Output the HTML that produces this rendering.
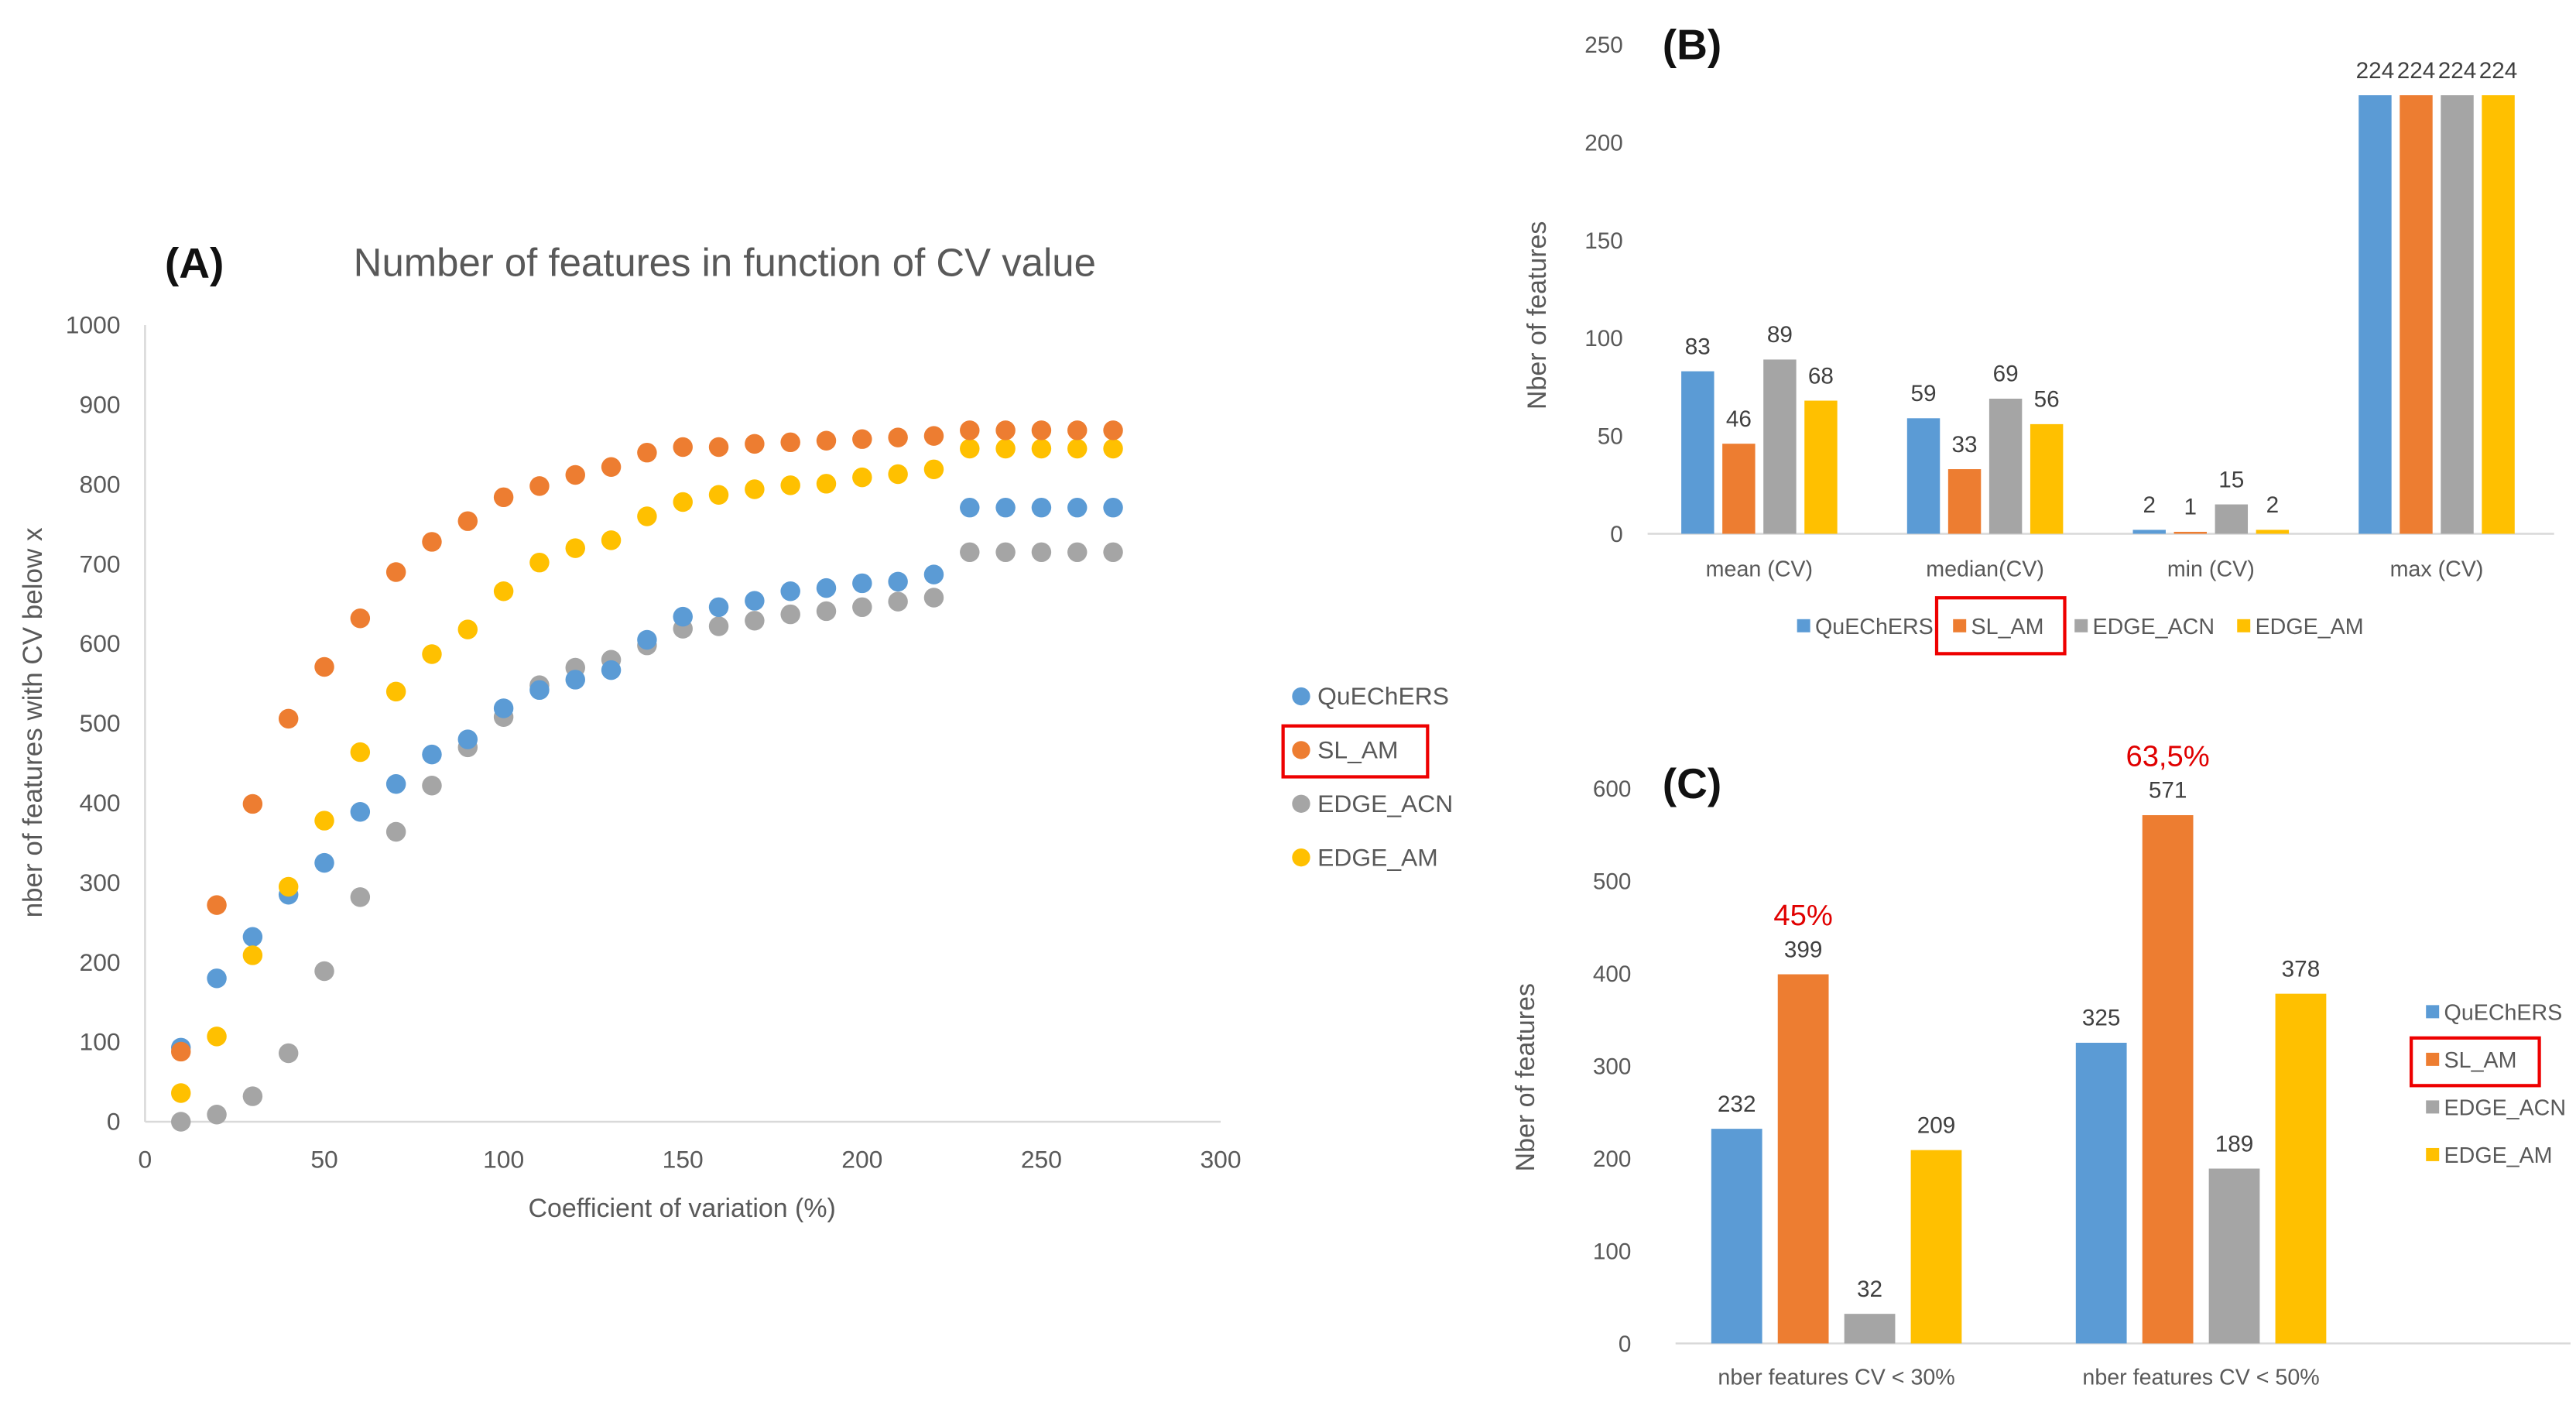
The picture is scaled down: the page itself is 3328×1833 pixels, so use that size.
<!DOCTYPE html>
<html><head><meta charset="utf-8"><style>
html,body{margin:0;padding:0;background:#fff;}
svg{display:block;font-family:"Liberation Sans Narrow","Liberation Sans",sans-serif;}
</style></head><body>
<svg id="fig" width="3328" height="1833" viewBox="0 0 1568 864" xmlns="http://www.w3.org/2000/svg">
<rect width="1568" height="864" fill="#fff"/>
<g id="A">
<text x="100" y="169" font-size="26" font-weight="bold" fill="#111" font-family="Liberation Sans,sans-serif">(A)</text>
<text x="441" y="168" font-size="24" fill="#595959" text-anchor="middle" font-family="Liberation Sans,sans-serif">Number of features in function of CV value</text>
<line x1="88" y1="198" x2="88" y2="683" stroke="#d9d9d9" stroke-width="1.2"/>
<line x1="88" y1="683" x2="743" y2="683" stroke="#d9d9d9" stroke-width="1.2"/>
<g id="Ayt"></g><g id="Axt"></g>
<text x="415" y="741" font-size="16" fill="#595959" text-anchor="middle">Coefficient of variation (%)</text>
<text transform="translate(25,440) rotate(-90)" font-size="16.5" fill="#595959" text-anchor="middle" font-family="Liberation Sans,sans-serif">nber of features with CV below x</text>
<g id="Apts"></g>
<g id="Aleg"></g>
<rect x="781" y="442" width="88" height="31" fill="none" stroke="#e00" stroke-width="2"/>
</g>
<g id="B">
<text x="1012" y="36" font-size="26" font-weight="bold" fill="#111" font-family="Liberation Sans,sans-serif">(B)</text>
<line x1="1003" y1="325" x2="1555" y2="325" stroke="#d9d9d9" stroke-width="1.2"/>
<text transform="translate(941,192) rotate(-90)" font-size="16" fill="#595959" text-anchor="middle" font-family="Liberation Sans,sans-serif">Nber of features</text>
<g id="Bg"></g>
<rect x="1179" y="364" width="78" height="34" fill="none" stroke="#e00" stroke-width="2"/>
</g>
<g id="C">
<text x="1012" y="486" font-size="26" font-weight="bold" fill="#111" font-family="Liberation Sans,sans-serif">(C)</text>
<line x1="1020" y1="818" x2="1565" y2="818" stroke="#d9d9d9" stroke-width="1.2"/>
<text transform="translate(934,656) rotate(-90)" font-size="16" fill="#595959" text-anchor="middle" font-family="Liberation Sans,sans-serif">Nber of features</text>
<g id="Cg"></g>
<rect x="1468" y="632" width="78" height="29" fill="none" stroke="#e00" stroke-width="2"/>
</g>
</svg>
<script>
const seriesNames = ["QuEChERS","SL_AM","EDGE_ACN","EDGE_AM"];
const seriesColors = ["#5b9bd5","#ed7d31","#a5a5a5","#ffc000"];
const cvX = [10,20,30,40,50,60,70,80,90,100,110,120,130,140,150,160,170,180,190,200,210,220,230,240,250,260,270];
const quechers = [93,180,232,285,325,389,424,461,480,519,542,555,567,605,634,646,654,666,670,676,678,687,771,771,771,771,771];
const slAm = [88,272,399,506,571,632,690,728,754,784,798,812,822,840,847,847,851,853,855,857,859,861,868,868,868,868,868];
const edgeAcn = [0,9,32,86,189,282,364,422,470,508,548,570,580,598,619,622,629,637,641,646,653,658,715,715,715,715,715];
const edgeAm = [36,107,209,295,378,464,540,587,618,666,702,720,730,760,778,787,794,799,801,809,813,819,845,845,845,845,845];
const aYTicks = [0,100,200,300,400,500,600,700,800,900,1000];
const aXTicks = [0,50,100,150,200,250,300];
const bCats = ["mean (CV)","median(CV)","min (CV)","max (CV)"];
const bQuechers = [83,59,2,224];
const bSlAm = [46,33,1,224];
const bEdgeAcn = [89,69,15,224];
const bEdgeAm = [68,56,2,224];
const bYTicks = [0,50,100,150,200,250];
const cCats = ["nber features CV < 30%","nber features CV < 50%"];
const cQuechers = [232,325];
const cSlAm = [399,571];
const cEdgeAcn = [32,189];
const cEdgeAm = [209,378];
const cYTicks = [0,100,200,300,400,500,600];
const cPercent = ["45%","63,5%"];

const NS="http://www.w3.org/2000/svg";
function mk(tag, attrs, parent, txt){const e=document.createElementNS(NS,tag);for(const k in attrs)e.setAttribute(k,attrs[k]);if(txt!==undefined)e.textContent=txt;parent.appendChild(e);return e;}
const ax=v=>88+v/300*655, ay=v=>683-v/1000*485;
const Ayt=document.getElementById('Ayt'), Axt=document.getElementById('Axt');
aYTicks.forEach(t=>{const e=mk('text',{x:73,y:ay(t)+5,'font-size':15,fill:'#595959','text-anchor':'end'},Ayt,t);

});
aXTicks.forEach(t=>{const e=mk('text',{x:ax(t),y:711,'font-size':15,fill:'#595959','text-anchor':'middle'},Axt,t);

});
const aSeries=[quechers,slAm,edgeAcn,edgeAm];
const Apts=document.getElementById('Apts');
[2,0,3,1].forEach(s=>{aSeries[s].forEach((v,i)=>{const c=mk('circle',{cx:ax(cvX[i]),cy:ay(v),r:6,fill:seriesColors[s]},Apts);

});});
const Aleg=document.getElementById('Aleg');
seriesNames.forEach((n,i)=>{const y=424+i*32.7;const g=mk('g',{},Aleg);


mk('circle',{cx:792,cy:y,r:5.5,fill:seriesColors[i]},g);mk('text',{x:802,y:y+5,'font-size':15,fill:'#595959'},g,n);});
function bars(G,cats,vals,yf,centers,bw,step,y0,tickX,ticks,catY,labelFs,legend){
 ticks.forEach(t=>{const e=mk('text',{x:tickX,y:yf(t)+5,'font-size':14,fill:'#595959','text-anchor':'end'},G,t);
 
 });
 cats.forEach((c,ci)=>{const e=mk('text',{x:centers(ci),y:catY,'font-size':13.5,fill:'#595959','text-anchor':'middle'},G,c);
 
 
 vals.forEach((arr,s)=>{const x=centers(ci)+(s-1.5)*step-bw/2;const v=arr[ci];const r=mk('rect',{x:x,y:yf(v),width:bw,height:y0-yf(v),fill:seriesColors[s]},G);
 
 
 const l=mk('text',{x:x+bw/2,y:yf(v)-labelFs*0.75,'font-size':labelFs,fill:'#404040','text-anchor':'middle'},G,v);
 
 });});
 legend.forEach(p=>{const g=mk('g',{},G);
 
 
 mk('rect',{x:p.x,y:p.y-4,width:8,height:8,fill:seriesColors[p.i]},g);mk('text',{x:p.x+11,y:p.y+5,'font-size':13.5,fill:'#595959'},g,seriesNames[p.i]);});
}
const byf=v=>325-v*298/250;
bars(document.getElementById('Bg'),bCats,[bQuechers,bSlAm,bEdgeAcn,bEdgeAm],byf,i=>1071+i*137.5,20,25,325,988,bYTicks,351,14,
 [{i:0,x:1094,y:381},{i:1,x:1189,y:381},{i:2,x:1263,y:381},{i:3,x:1362,y:381}]);
const cyf=v=>818-v*338/600;
bars(document.getElementById('Cg'),cCats,[cQuechers,cSlAm,cEdgeAcn,cEdgeAm],cyf,i=>1118+i*222,31,40.5,818,993,cYTicks,843,14,
 [{i:0,x:1477,y:616},{i:1,x:1477,y:645},{i:2,x:1477,y:674},{i:3,x:1477,y:703}]);
const Cg=document.getElementById('Cg');
cPercent.forEach((p,i)=>{const x=1118+i*222-0.5*40.5;const e=mk('text',{x:x,y:cyf(cSlAm[i])-30,'font-size':18,fill:'#e00000','text-anchor':'middle'},Cg,p);

});
</script>
</body></html>
